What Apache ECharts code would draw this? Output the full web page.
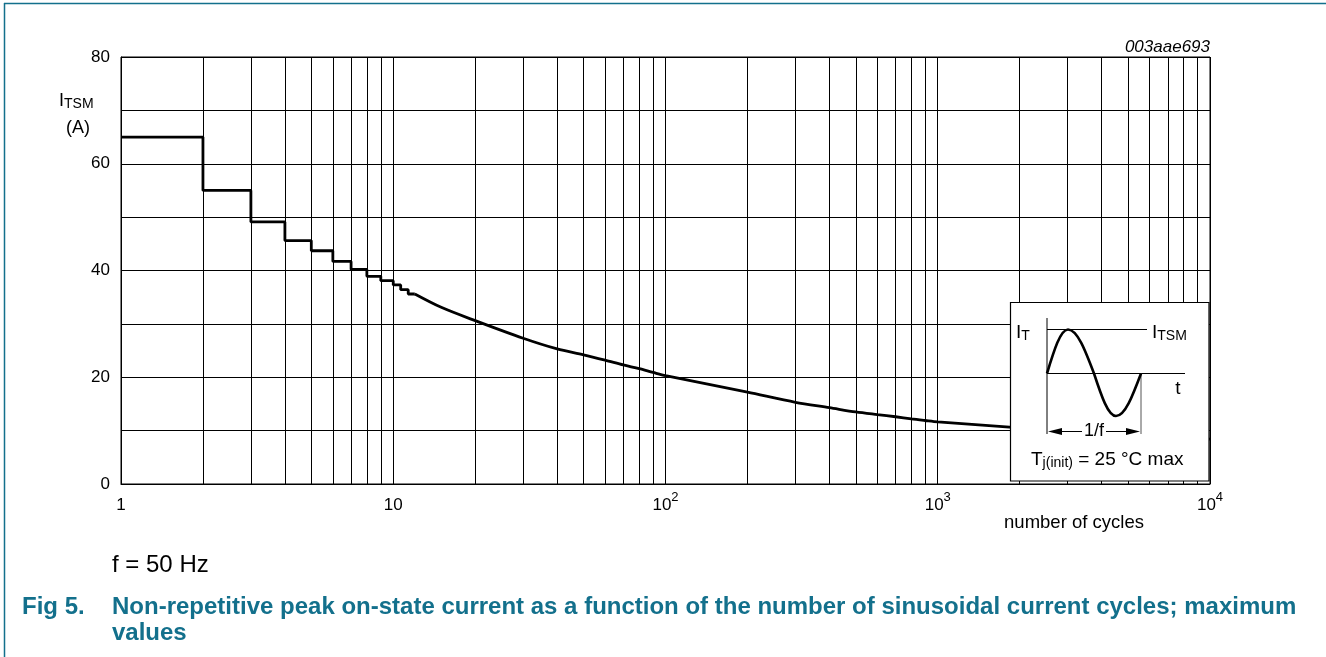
<!DOCTYPE html>
<html>
<head>
<meta charset="utf-8">
<script src="https://cdn.jsdelivr.net/npm/echarts@6/dist/echarts.min.js"></script>
<style>
  html, body { margin: 0; padding: 0; background: #fff; }
  #chart { width: 1326px; height: 657px; }
</style>
</head>
<body>
<div id="chart"></div>
<script>
// step part of the curve (level holds from this cycle count to the next one)
var stepCycles = [1, 2, 3, 4, 5, 6, 7, 8, 9, 10, 10.65, 11.35, 12];
var stepCurrent = [65, 55, 49.1, 45.6, 43.7, 41.7, 40.2, 38.9, 38.1, 37.3, 36.4, 35.6, 35.6];

// smooth part of the curve
var curveCycles = [12, 15, 20, 30, 40, 50, 60, 70, 80, 90, 100, 200, 300, 400, 500, 600, 700, 800, 900, 1000, 2000, 3000, 5000, 10000];
var curveCurrent = [35.6, 33.1, 30.6, 27.3, 25.3, 24.2, 23.2, 22.3, 21.6, 20.9, 20.3, 17.2, 15.3, 14.3, 13.5, 13.0, 12.6, 12.2, 11.9, 11.65, 10.5, 9.9, 9.2, 8.4];

// axis ticks
var xTickValues = [1, 10, 100, 1000, 10000];
var xTickText = ['1', '10', '10{sup|2}', '10{sup|3}', '10{sup|4}'];
var yTickValues = [0, 20, 40, 60, 80];
// 2..9 in every decade
var minorCycles = [2, 3, 4, 5, 6, 7, 8, 9,
  20, 30, 40, 50, 60, 70, 80, 90,
  200, 300, 400, 500, 600, 700, 800, 900,
  2000, 3000, 4000, 5000, 6000, 7000, 8000, 9000];

var FONT = '"Liberation Sans", Arial, Helvetica, sans-serif';
var TEAL = '#13708c';

var chart = echarts.init(document.getElementById('chart'));

function zip(xs, ys) {
  return xs.map(function (x, i) { return [x, ys[i]]; });
}

// sine sketch in the inset, one bezier per quarter wave
function quarter(x1, y1, cx1, cy1, cx2, cy2, x2, y2) {
  return {
    type: 'bezierCurve',
    shape: { x1: x1, y1: y1, cpx1: cx1, cpy1: cy1, cpx2: cx2, cpy2: cy2, x2: x2, y2: y2 },
    style: { fill: null, stroke: '#000', lineWidth: 2.6 }
  };
}

function subRich(big, small) {
  return {
    i: { fontSize: big, fontFamily: FONT, lineHeight: big + 2, color: '#000' },
    s: { fontSize: small, fontFamily: FONT, verticalAlign: 'bottom', lineHeight: small + 2, color: '#000' }
  };
}

var inset = [
  { type: 'rect', shape: { x: 1010.5, y: 302.5, width: 198.5, height: 178.5 }, style: { fill: '#fff', stroke: '#000', lineWidth: 1.2 } },
  { type: 'line', shape: { x1: 1047, y1: 318, x2: 1047, y2: 434 }, style: { stroke: '#000', lineWidth: 1 } },
  { type: 'line', shape: { x1: 1047, y1: 329.5, x2: 1147, y2: 329.5 }, style: { stroke: '#000', lineWidth: 1 } },
  { type: 'line', shape: { x1: 1047, y1: 373.5, x2: 1185, y2: 373.5 }, style: { stroke: '#000', lineWidth: 1 } },
  { type: 'line', shape: { x1: 1141, y1: 373.5, x2: 1141, y2: 434 }, style: { stroke: '#555', lineWidth: 1 } },
  quarter(1047, 373.5, 1054, 350.4, 1060.45, 329.5, 1068, 329.5),
  quarter(1068, 329.5, 1077.35, 329.5, 1085.31, 350.4, 1094, 373.5),
  quarter(1094, 373.5, 1101.35, 395.8, 1108.09, 416, 1116, 416),
  quarter(1116, 416, 1124.99, 416, 1132.64, 395.8, 1141, 373.5),
  { type: 'line', shape: { x1: 1050, y1: 431.5, x2: 1138, y2: 431.5 }, style: { stroke: '#000', lineWidth: 1 } },
  { type: 'polygon', shape: { points: [[1048, 431.5], [1062, 428], [1062, 435]] }, style: { fill: '#000' } },
  { type: 'polygon', shape: { points: [[1140, 431.5], [1126, 428], [1126, 435]] }, style: { fill: '#000' } },
  { type: 'text', x: 1094, y: 431.5, style: { text: '1/f', font: '18px ' + FONT, fill: '#000', textAlign: 'center', textVerticalAlign: 'middle', backgroundColor: '#fff', padding: [0, 2] } },
  { type: 'text', x: 1016, y: 333, style: { text: '{i|I}{s|T}', textVerticalAlign: 'middle', rich: subRich(19, 14) } },
  { type: 'text', x: 1152, y: 333, style: { text: '{i|I}{s|TSM}', textVerticalAlign: 'middle', rich: subRich(19, 14) } },
  { type: 'text', x: 1178, y: 389, style: { text: 't', font: '19px ' + FONT, fill: '#000', textAlign: 'center', textVerticalAlign: 'middle' } },
  { type: 'text', x: 1031, y: 460, style: { text: '{i|T}{s|j(init)}{i| = 25 °C max}', textVerticalAlign: 'middle', rich: subRich(19, 14) } }
];
inset.forEach(function (el) { el.z = 100; });

chart.setOption({
  animation: false,
  textStyle: { fontFamily: FONT },
  grid: {
    left: 121, right: 116, top: 57, bottom: 173,
    show: true, borderColor: '#000', borderWidth: 1
  },
  xAxis: {
    type: 'log',
    logBase: 10,
    min: 1,
    max: 10000,
    axisLine: { lineStyle: { color: '#000', width: 1 } },
    axisTick: { show: false },
    splitLine: { show: true, lineStyle: { color: '#000', width: 1 } },
    axisLabel: {
      color: '#000',
      fontSize: 17,
      fontFamily: FONT,
      lineHeight: 28,
      margin: 7,
      formatter: function (v) {
        var i = xTickValues.indexOf(Math.round(v));
        return i >= 0 ? xTickText[i] : '';
      },
      rich: {
        sup: { fontSize: 13, lineHeight: 13, verticalAlign: 'top', fontFamily: FONT, color: '#000' }
      }
    }
  },
  yAxis: {
    type: 'value',
    min: 0,
    max: 80,
    interval: 10,
    axisLine: { show: true, lineStyle: { color: '#000', width: 1 } },
    axisTick: { show: false },
    splitLine: { show: true, lineStyle: { color: '#000', width: 1 } },
    axisLabel: {
      color: '#000',
      fontSize: 17,
      fontFamily: FONT,
      margin: 11,
      formatter: function (v) {
        return yTickValues.indexOf(v) >= 0 ? String(v) : '';
      }
    }
  },
  series: [{
    name: 'steps',
    type: 'line',
    step: 'end',
    data: zip(stepCycles, stepCurrent),
    showSymbol: false,
    lineStyle: { color: '#000', width: 2.8 },
    z: 5
  }, {
    name: 'curve',
    type: 'line',
    smooth: 0.3,
    data: zip(curveCycles, curveCurrent),
    showSymbol: false,
    lineStyle: { color: '#000', width: 2.8 },
    z: 5,
    markLine: {
      silent: true,
      symbol: ['none', 'none'],
      label: { show: false },
      lineStyle: { color: '#000', width: 1, type: 'solid' },
      emphasis: { disabled: true },
      data: minorCycles.map(function (v) { return { xAxis: v }; })
    }
  }],
  graphic: [
    // page frame (left and top)
    { type: 'line', shape: { x1: 4.5, y1: 3, x2: 4.5, y2: 657 }, style: { stroke: TEAL, lineWidth: 1.5 } },
    { type: 'line', shape: { x1: 4, y1: 3.5, x2: 1326, y2: 3.5 }, style: { stroke: TEAL, lineWidth: 1.5 } },
    { type: 'text', x: 1210, y: 47, style: { text: '003aae693', font: 'italic 17px ' + FONT, fill: '#000', textAlign: 'right', textVerticalAlign: 'middle' } },
    // y axis name
    { type: 'text', x: 59, y: 101, style: { text: '{i|I}{s|TSM}', textVerticalAlign: 'middle', rich: subRich(18, 14) } },
    { type: 'text', x: 78, y: 128, style: { text: '(A)', font: '18px ' + FONT, fill: '#000', textAlign: 'center', textVerticalAlign: 'middle' } },
    { type: 'text', x: 1074, y: 523, style: { text: 'number of cycles', font: '18.5px ' + FONT, fill: '#000', textAlign: 'center', textVerticalAlign: 'middle' } }
  ].concat(inset).concat([
    // notes and caption
    { type: 'text', x: 112, y: 565, style: { text: 'f = 50 Hz', font: '24px ' + FONT, fill: '#000', textVerticalAlign: 'middle' } },
    { type: 'text', x: 22, y: 607, style: { text: 'Fig 5.', font: 'bold 24px ' + FONT, fill: TEAL, textVerticalAlign: 'middle' } },
    { type: 'text', x: 112, y: 607, style: { text: 'Non-repetitive peak on-state current as a function of the number of sinusoidal current cycles; maximum', font: 'bold 24px ' + FONT, fill: TEAL, textVerticalAlign: 'middle' } },
    { type: 'text', x: 112, y: 633, style: { text: 'values', font: 'bold 24px ' + FONT, fill: TEAL, textVerticalAlign: 'middle' } }
  ])
});
</script>
</body>
</html>
